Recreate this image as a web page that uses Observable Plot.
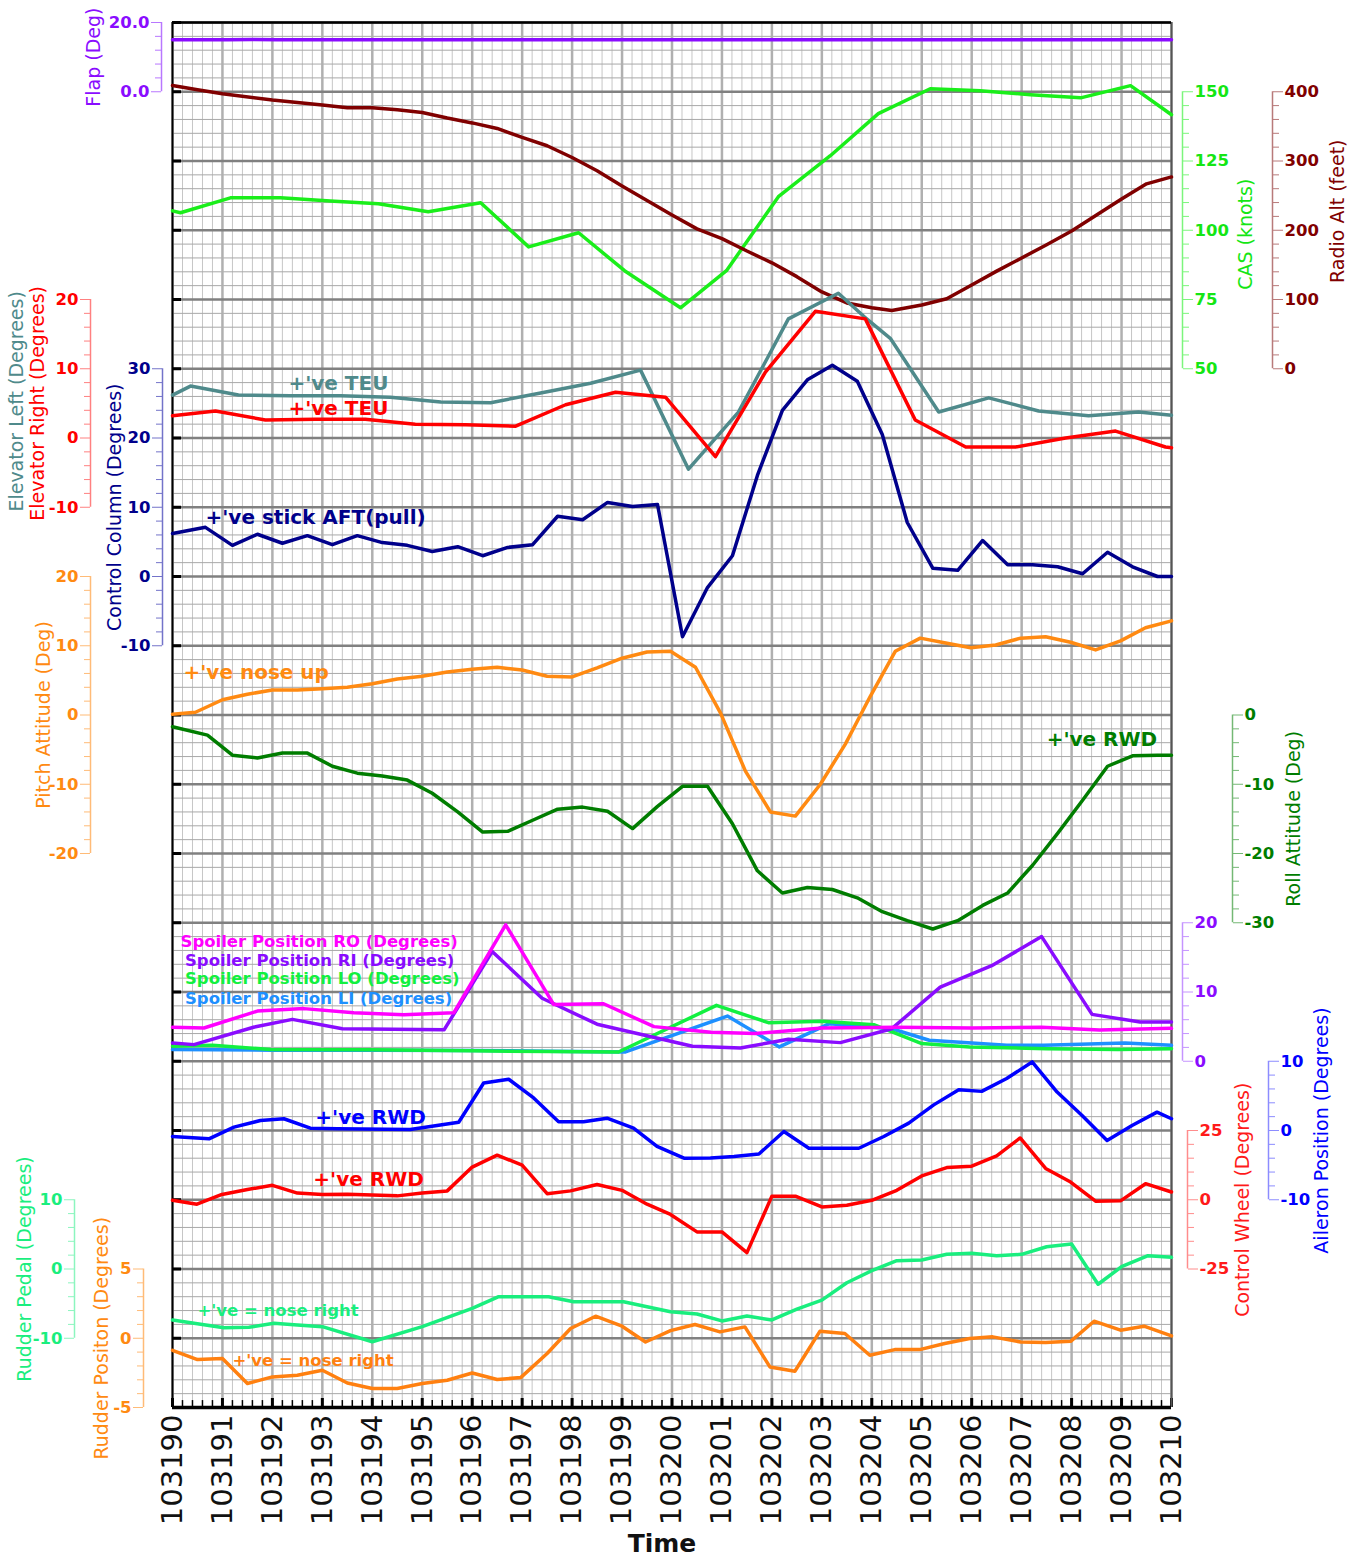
<!DOCTYPE html>
<html><head><meta charset="utf-8">
<script src="https://cdn.jsdelivr.net/npm/d3@7"></script>
<script src="https://cdn.jsdelivr.net/npm/@observablehq/plot@0.6"></script>
<style>
body{margin:0;background:#fff;}
#chart{position:relative;width:1361px;height:1560px;}
#chart svg{position:absolute;left:0;top:0;overflow:visible;background:transparent;font-family:Verdana,"DejaVu Sans",sans-serif;}
</style></head><body><div id="chart"></div><script>
// ---------- data (time in seconds, value) ----------
const timeTicks = d3.range(103190, 103211);
const flapDeg = [[103190,15],[103191.1,15],[103191.6,15.1],[103192.1,15],[103210,15]];
const radioAltFt = [[103190.0,409],[103190.5,403],[103191.0,397],[103192.0,388],[103193.0,381],[103193.5,377],[103194.0,377],[103194.5,374],[103195.0,370],[103195.5,362],[103196.0,355],[103196.5,347],[103197.0,334],[103197.5,322],[103198.0,305],[103198.5,286],[103199.0,264],[103199.5,243],[103200.0,222],[103200.5,202],[103201.0,188],[103201.5,170],[103202.0,153],[103202.5,133],[103203.0,111],[103203.5,95],[103204.0,88],[103204.4,84],[103205.0,92],[103205.5,101],[103206.0,121],[103206.5,141],[103207.0,160],[103207.5,179],[103208.0,199],[103208.5,222],[103209.0,245],[103209.5,267],[103210.0,277]];
const casKnots = [[103190.0,107.0],[103190.16,106.3],[103191.16,111.7],[103192.16,111.7],[103193.16,110.6],[103194.12,109.6],[103195.12,106.7],[103196.17,109.9],[103197.13,94.0],[103198.13,99.1],[103199.05,85.4],[103200.17,72.0],[103201.09,85.4],[103202.13,112.1],[103203.17,126.9],[103204.13,142.1],[103205.17,151.1],[103206.17,150.4],[103207.18,148.9],[103208.18,147.8],[103209.18,152.2],[103210.0,141.7]];
const elevatorLeft = [[103190.0,6.2],[103190.36,7.5],[103191.32,6.2],[103192.36,6.1],[103193.36,6.1],[103194.36,5.9],[103195.37,5.2],[103196.37,5.1],[103197.37,6.5],[103198.37,7.9],[103199.37,9.8],[103200.33,-4.5],[103201.33,3.75],[103202.33,17.2],[103203.33,20.9],[103203.85,17.5],[103204.37,14.4],[103205.34,3.75],[103206.34,5.8],[103207.34,3.9],[103208.34,3.2],[103209.34,3.75],[103210.0,3.3]];
const elevatorRight = [[103190.0,3.2],[103190.86,3.9],[103191.86,2.6],[103192.86,2.7],[103193.86,2.7],[103194.86,2.0],[103195.87,1.9],[103196.87,1.7],[103197.87,4.8],[103198.87,6.6],[103199.87,5.9],[103200.87,-2.7],[103201.87,9.5],[103202.87,18.3],[103203.87,17.2],[103204.87,2.6],[103205.88,-1.3],[103206.88,-1.3],[103207.88,0.0],[103208.88,1.0],[103209.88,-1.3],[103210.0,-1.4]];
const controlColumn = [[103190.0,6.2],[103190.66,7.1],[103191.2,4.5],[103191.7,6.1],[103192.2,4.8],[103192.7,5.9],[103193.2,4.6],[103193.7,5.9],[103194.2,4.9],[103194.7,4.5],[103195.2,3.6],[103195.71,4.3],[103196.21,3.0],[103196.71,4.2],[103197.21,4.6],[103197.71,8.7],[103198.21,8.2],[103198.71,10.7],[103199.21,10.1],[103199.71,10.4],[103200.21,-8.7],[103200.71,-1.6],[103201.21,3.0],[103201.71,14.6],[103202.21,24.0],[103202.71,28.4],[103203.21,30.5],[103203.71,28.2],[103204.21,20.5],[103204.71,7.8],[103205.22,1.2],[103205.72,0.9],[103206.22,5.2],[103206.72,1.7],[103207.22,1.7],[103207.72,1.4],[103208.22,0.4],[103208.72,3.5],[103209.22,1.4],[103209.72,0.0],[103210.0,0.0]];
const pitchAttitude = [[103190.0,0.1],[103190.46,0.4],[103191.0,2.2],[103191.5,3.0],[103192.0,3.6],[103192.5,3.6],[103193.0,3.8],[103193.5,4.0],[103194.0,4.5],[103194.5,5.2],[103195.0,5.6],[103195.5,6.2],[103196.0,6.6],[103196.5,6.9],[103197.0,6.5],[103197.5,5.6],[103198.0,5.5],[103198.5,6.8],[103199.0,8.2],[103199.5,9.1],[103199.97,9.2],[103200.47,6.9],[103200.97,0.3],[103201.47,-8.1],[103201.97,-14.0],[103202.47,-14.6],[103202.97,-10.0],[103203.47,-4.2],[103203.97,2.7],[103204.47,9.2],[103204.97,11.1],[103205.48,10.4],[103205.98,9.7],[103206.48,10.1],[103206.98,11.1],[103207.48,11.3],[103207.98,10.5],[103208.48,9.4],[103208.98,10.7],[103209.48,12.6],[103210.0,13.6]];
const rollAttitude = [[103190.0,-1.7],[103190.7,-2.9],[103191.2,-5.8],[103191.7,-6.2],[103192.2,-5.5],[103192.7,-5.5],[103193.2,-7.4],[103193.7,-8.4],[103194.2,-8.8],[103194.7,-9.4],[103195.2,-11.3],[103195.71,-14.0],[103196.21,-16.9],[103196.71,-16.8],[103197.21,-15.2],[103197.71,-13.6],[103198.21,-13.3],[103198.71,-13.9],[103199.21,-16.4],[103199.71,-13.2],[103200.21,-10.3],[103200.71,-10.3],[103201.21,-15.7],[103201.71,-22.5],[103202.21,-25.7],[103202.71,-24.9],[103203.21,-25.2],[103203.71,-26.4],[103204.21,-28.4],[103204.71,-29.7],[103205.22,-30.9],[103205.72,-29.7],[103206.22,-27.5],[103206.72,-25.7],[103207.22,-21.7],[103207.72,-17.1],[103208.22,-12.3],[103208.72,-7.4],[103209.22,-5.9],[103209.72,-5.8],[103210.0,-5.8]];
const spoilerRO = [[103190.0,4.9],[103190.63,4.8],[103191.7,7.25],[103192.63,7.6],[103193.63,7.0],[103194.63,6.7],[103195.63,7.0],[103196.67,19.7],[103197.63,8.2],[103198.63,8.3],[103199.64,5.0],[103200.78,4.2],[103201.67,4.0],[103203.0,4.8],[103204.5,4.9],[103206.0,4.8],[103207.4,4.9],[103208.56,4.5],[103210.0,4.75]];
const spoilerRI = [[103190.0,2.64],[103190.43,2.4],[103191.64,4.94],[103192.4,6.05],[103193.4,4.7],[103195.44,4.56],[103196.4,15.85],[103197.4,9.1],[103198.5,5.35],[103200.41,2.16],[103201.37,1.92],[103202.33,3.17],[103203.37,2.69],[103204.4,4.7],[103205.37,10.7],[103206.4,13.8],[103207.4,18.0],[103208.41,6.77],[103209.37,5.66],[103210.0,5.66]];
const spoilerLO = [[103190.0,2.16],[103190.8,2.3],[103191.96,1.7],[103194.0,1.65],[103196.0,1.5],[103197.6,1.4],[103198.93,1.34],[103200.89,8.07],[103201.93,5.57],[103203.0,5.76],[103204.04,5.28],[103205.0,2.55],[103205.96,2.07],[103207.5,1.8],[103208.93,1.7],[103210.0,1.8]];
const spoilerLI = [[103190.0,1.68],[103192.0,1.6],[103194.0,1.6],[103196.0,1.55],[103197.5,1.45],[103199.07,1.34],[103201.11,6.53],[103202.15,2.07],[103203.15,5.43],[103204.4,4.7],[103205.15,3.03],[103206.7,2.3],[103207.44,2.3],[103209.07,2.64],[103210.0,2.3]];
const aileronPos = [[103190.0,-0.87],[103190.73,-1.2],[103191.23,0.48],[103191.76,1.45],[103192.23,1.7],[103192.76,0.33],[103193.3,0.25],[103194.76,0.14],[103195.73,1.2],[103196.23,6.85],[103196.73,7.4],[103197.23,4.7],[103197.73,1.26],[103198.23,1.26],[103198.7,1.78],[103199.23,0.33],[103199.7,-2.3],[103200.24,-4.0],[103200.77,-3.96],[103201.24,-3.77],[103201.74,-3.4],[103202.24,-0.14],[103202.74,-2.56],[103203.74,-2.56],[103204.24,-0.87],[103204.74,1.06],[103205.24,3.7],[103205.74,5.9],[103206.2,5.65],[103206.7,7.5],[103207.21,9.9],[103207.71,5.55],[103208.21,2.17],[103208.71,-1.45],[103209.21,0.72],[103209.71,2.65],[103210.0,1.7]];
const controlWheel = [[103190.0,-0.2],[103190.49,-1.6],[103190.99,1.9],[103191.5,3.7],[103192.0,5.2],[103192.5,2.4],[103193.0,1.9],[103193.5,2.0],[103194.5,1.4],[103195.0,2.4],[103195.5,3.2],[103196.0,11.8],[103196.5,16.1],[103197.0,12.5],[103197.5,2.2],[103197.97,3.2],[103198.5,5.5],[103199.0,3.4],[103199.5,-1.6],[103199.97,-5.3],[103200.5,-11.6],[103201.0,-11.6],[103201.5,-19.1],[103202.0,1.3],[103202.47,1.3],[103203.0,-2.6],[103203.5,-2.0],[103204.0,-0.2],[103204.5,3.4],[103205.0,8.6],[103205.5,11.6],[103206.0,12.1],[103206.5,15.8],[103206.97,22.3],[103207.48,11.3],[103207.98,6.4],[103208.48,-0.5],[103208.98,-0.4],[103209.48,5.8],[103210.0,2.8]];
const rudderPedal = [[103190.0,-7.36],[103191.03,-8.48],[103191.53,-8.42],[103192.03,-7.84],[103192.5,-8.09],[103193.0,-8.33],[103194.0,-10.5],[103195.0,-8.33],[103196.0,-5.68],[103196.53,-4.0],[103197.53,-4.0],[103198.03,-4.72],[103199.03,-4.72],[103199.97,-6.17],[103200.5,-6.5],[103201.0,-7.5],[103201.5,-6.8],[103202.0,-7.36],[103202.5,-5.8],[103203.0,-4.5],[103203.5,-1.98],[103204.0,-0.24],[103204.5,1.2],[103205.0,1.3],[103205.5,2.12],[103206.0,2.26],[103206.5,1.92],[103207.0,2.12],[103207.5,3.22],[103208.0,3.61],[103208.53,-2.2],[103209.0,0.33],[103209.53,1.92],[103210.0,1.69]];
const rudderPosition = [[103190.0,-0.87],[103190.5,-1.54],[103191.0,-1.47],[103191.5,-3.27],[103192.0,-2.79],[103192.5,-2.67],[103193.0,-2.31],[103193.5,-3.23],[103194.0,-3.63],[103194.5,-3.63],[103195.0,-3.27],[103195.5,-3.03],[103196.0,-2.51],[103196.5,-2.98],[103196.97,-2.84],[103197.5,-1.1],[103197.97,0.7],[103198.47,1.59],[103199.0,0.87],[103199.47,-0.27],[103199.97,0.55],[103200.46,0.99],[103200.96,0.46],[103201.46,0.82],[103201.96,-2.07],[103202.46,-2.38],[103202.96,0.5],[103203.46,0.34],[103203.96,-1.23],[103204.46,-0.82],[103204.96,-0.82],[103205.46,-0.38],[103205.96,-0.02],[103206.42,0.1],[103206.98,-0.27],[103207.48,-0.31],[103207.98,-0.22],[103208.45,1.23],[103208.98,0.58],[103209.45,0.87],[103210.0,0.17]];

// ---------- layout ----------
const W = 1361, H = 1560, ML = 172, MR = 190, TOP = 22, ROW = 69.25;
const T0 = 103190, T1 = 103210;
const chart = document.getElementById("chart");
const rowPx = r => TOP + r * ROW;
const add = svg => chart.appendChild(svg);

// ---------- base grid and time axis ----------
const majorRows = d3.range(0, 21);
const minorRows = d3.range(0, 100).filter(i => i % 5).map(i => i / 5);
const minorSecs = d3.range(0, 100).filter(i => i % 5).map(i => T0 + i / 5);
add(Plot.plot({
  width: W, height: H, marginLeft: ML, marginRight: MR, marginTop: TOP, marginBottom: H - rowPx(20),
  x: {domain: [T0, T1]}, y: {domain: [20, 0], axis: null},
  marks: [
    Plot.ruleX(minorSecs, {stroke: "#c6c6c6", strokeWidth: 1}),
    Plot.ruleY(minorRows, {stroke: "#a8a8a8", strokeWidth: 1}),
    Plot.ruleX(timeTicks, {stroke: "#b0b0b0", strokeWidth: 2.5}),
    Plot.ruleY(majorRows, {stroke: "#808080", strokeWidth: 2.5}),
    Plot.ruleY(majorRows, {x1: T0, x2: T0 + 0.18, stroke: "#000", strokeWidth: 3}),
    Plot.ruleX(minorSecs, {y1: 20, y2: 19.9, stroke: "#000", strokeWidth: 1.5}),
    Plot.ruleX(timeTicks, {y1: 20, y2: 19.87, stroke: "#000", strokeWidth: 3}),
    Plot.ruleX([T0], {stroke: "#000", strokeWidth: 2}),
    Plot.ruleX([T1], {stroke: "#555", strokeWidth: 2}),
    Plot.ruleY([0], {stroke: "#000", strokeWidth: 2.5}),
    Plot.ruleY([20], {stroke: "#000", strokeWidth: 3.5}),
    Plot.axisX(timeTicks, {anchor: "bottom", tickSize: 0, tickPadding: 7, tickRotate: -90, tickFormat: d => String(d), fontSize: 29, fill: "#111", label: null}),
    Plot.text(["Time"], {text: d => d, frameAnchor: "bottom", dx: -10, dy: 144, fontSize: 25, fontWeight: "bold", fill: "#111"})
  ]
}));

// ---------- series layers ----------
function layer(domain, rows, marks) {
  add(Plot.plot({
    width: W, height: H, marginLeft: ML, marginRight: MR,
    marginTop: rowPx(rows[0]), marginBottom: H - rowPx(rows[1]),
    x: {domain: [T0, T1], axis: null}, y: {domain, axis: null}, marks
  }));
}
const line = (data, stroke) => Plot.line(data, {x: d => d[0], y: d => d[1], stroke, strokeWidth: 3.5});
const note = (t, v, s, fill, size) => Plot.text([{t, v, s}], {x: "t", y: "v", text: "s", fill, fontSize: size, fontWeight: "bold", textAnchor: "start"});

const C = {
  flap: "#8a0cff", cas: "#1aee1a", ralt: "#800000", elevL: "#4f8a8b", elevR: "#ff0000", cc: "#00008b",
  pitch: "#ff8a12", roll: "#007d00", ro: "#ff00ff", ri: "#8a0cff", lo: "#12f040", li: "#1e90ff",
  ail: "#0000ff", wheel: "#ff0000", pedal: "#1aee7e", rudder: "#ff8010"
};

layer([50, 150], [1, 5], [line(casKnots, C.cas)]);
layer([0, 400], [1, 5], [line(radioAltFt, C.ralt)]);
layer([0, 20], [0, 1], [line(flapDeg, C.flap)]);
layer([-10, 20], [4, 7], [
  line(elevatorLeft, C.elevL), line(elevatorRight, C.elevR),
  note(103192.32, 7.9, "+'ve TEU", C.elevL, 20), note(103192.32, 4.2, "+'ve TEU", C.elevR, 20)
]);
layer([-10, 30], [5, 9], [line(controlColumn, C.cc), note(103190.66, 8.5, "+'ve stick AFT(pull)", C.cc, 20)]);
layer([-20, 20], [8, 12], [line(pitchAttitude, C.pitch), note(103190.22, 6.1, "+'ve nose up", C.pitch, 20)]);
layer([-30, 0], [10, 13], [line(rollAttitude, C.roll), note(103207.5, -3.6, "+'ve RWD", C.roll, 20)]);
layer([0, 20], [13, 15], [
  line(spoilerLI, C.li), line(spoilerLO, C.lo), line(spoilerRI, C.ri), line(spoilerRO, C.ro),
  note(103190.16, 17.2, "Spoiler Position RO (Degrees)", C.ro, 16.5),
  note(103190.25, 14.55, "Spoiler Position RI (Degrees)", C.ri, 16.5),
  note(103190.25, 11.9, "Spoiler Position LO (Degrees)", C.lo, 16.5),
  note(103190.25, 9.1, "Spoiler Position LI (Degrees)", C.li, 16.5)
]);
layer([-10, 10], [15, 17], [line(aileronPos, C.ail), note(103192.86, 1.9, "+'ve RWD", C.ail, 20)]);
layer([-25, 25], [16, 18], [line(controlWheel, C.wheel), note(103192.82, 7.4, "+'ve RWD", C.wheel, 20)]);
layer([-10, 10], [17, 19], [line(rudderPedal, C.pedal), note(103190.5, -6.06, "+'ve = nose right", C.pedal, 16.5)]);
layer([-5, 5], [18, 20], [line(rudderPosition, C.rudder), note(103191.2, -1.59, "+'ve = nose right", C.rudder, 16.5)]);

// ---------- axes ----------
const minorBy = (lo, hi, step, major) => d3.range(lo, hi + step / 2, step).filter(v => !major.includes(v));
const axes = [
  {side: "left", pos: 161, rows: [0, 1], domain: [0, 20], major: [0, 20], step: 4, fmt: d => d.toFixed(1), color: "#8a0cff", line: "#b877ff",
   titles: [{s: "Flap (Deg)", dx: -68}]},
  {side: "right", pos: 1182, rows: [1, 5], domain: [50, 150], major: [50, 75, 100, 125, 150], step: 5, color: "#14e614", line: "#7cf57c",
   titles: [{s: "CAS (knots)", dx: 63, dy: 4}]},
  {side: "right", pos: 1272, rows: [1, 5], domain: [0, 400], major: [0, 100, 200, 300, 400], step: 20, color: "#800000", line: "#b87a7a",
   titles: [{s: "Radio Alt (feet)", dx: 65, dy: -19}]},
  {side: "left", pos: 90, rows: [4, 7], domain: [-10, 20], major: [-10, 0, 10, 20], step: 2, color: "#ff0000", line: "#ff8080",
   titles: [{s: "Elevator Left (Degrees)", dx: -74, dy: -2, color: "#4f8a8b"}, {s: "Elevator Right (Degrees)", dx: -53}]},
  {side: "left", pos: 162, rows: [5, 9], domain: [-10, 30], major: [-10, 0, 10, 20, 30], step: 2, color: "#00008b", line: "#7373c9",
   titles: [{s: "Control Column (Degrees)", dx: -48}]},
  {side: "left", pos: 90, rows: [8, 12], domain: [-20, 20], major: [-20, -10, 0, 10, 20], step: 2, color: "#ff8a12", line: "#ffbb77",
   titles: [{s: "Pitch Attitude (Deg)", dx: -47}]},
  {side: "right", pos: 1232, rows: [10, 13], domain: [-30, 0], major: [-30, -20, -10, 0], step: 2, color: "#007d00", line: "#74b874",
   titles: [{s: "Roll Attitude (Deg)", dx: 61}]},
  {side: "right", pos: 1182, rows: [13, 15], domain: [0, 20], major: [0, 10, 20], step: 2, color: "#8a0cff", line: "#c594ff", titles: []},
  {side: "right", pos: 1187, rows: [16, 18], domain: [-25, 25], major: [-25, 0, 25], step: 5, color: "#ff1a1a", line: "#ff8c8c",
   titles: [{s: "Control Wheel (Degrees)", dx: 55}]},
  {side: "right", pos: 1268, rows: [15, 17], domain: [-10, 10], major: [-10, 0, 10], step: 2, color: "#0000ff", line: "#8c8cff",
   titles: [{s: "Aileron Position (Degrees)", dx: 53}]},
  {side: "left", pos: 74, rows: [17, 19], domain: [-10, 10], major: [-10, 0, 10], step: 2, color: "#1aee7e", line: "#8cf5bf",
   titles: [{s: "Rudder Pedal (Degrees)", dx: -50}]},
  {side: "left", pos: 143, rows: [18, 20], domain: [-5, 5], major: [-5, 0, 5], step: 1, color: "#ff8a12", line: "#ffbb77",
   titles: [{s: "Rudder Positon (Degrees)", dx: -42}]}
];
for (const a of axes) {
  const left = a.side === "left";
  const minor = minorBy(a.domain[0], a.domain[1], a.step, a.major);
  add(Plot.plot({
    width: W, height: H,
    marginLeft: left ? a.pos : 0, marginRight: left ? 0 : W - a.pos,
    marginTop: rowPx(a.rows[0]), marginBottom: H - rowPx(a.rows[1]),
    x: {domain: [0, 1], axis: null}, y: {domain: a.domain},
    marks: [
      Plot.ruleX([left ? 0 : 1], {stroke: a.line, strokeWidth: 1.5}),
      Plot.axisY(minor, {anchor: a.side, tickSize: 6, tickFormat: () => "", stroke: a.line, label: null}),
      Plot.axisY(a.major, {anchor: a.side, tickSize: 10, tickPadding: 2, tickFormat: a.fmt || (d => String(d)),
        stroke: a.line, fill: a.color, fontSize: 16.5, fontWeight: "bold", label: null}),
      ...a.titles.map(t => Plot.text([t.s], {text: d => d, frameAnchor: a.side, dx: t.dx, dy: t.dy || 0, rotate: -90,
        textAnchor: "middle", fill: t.color || a.color, fontSize: 19}))
    ]
  }));
}
</script></body></html>
